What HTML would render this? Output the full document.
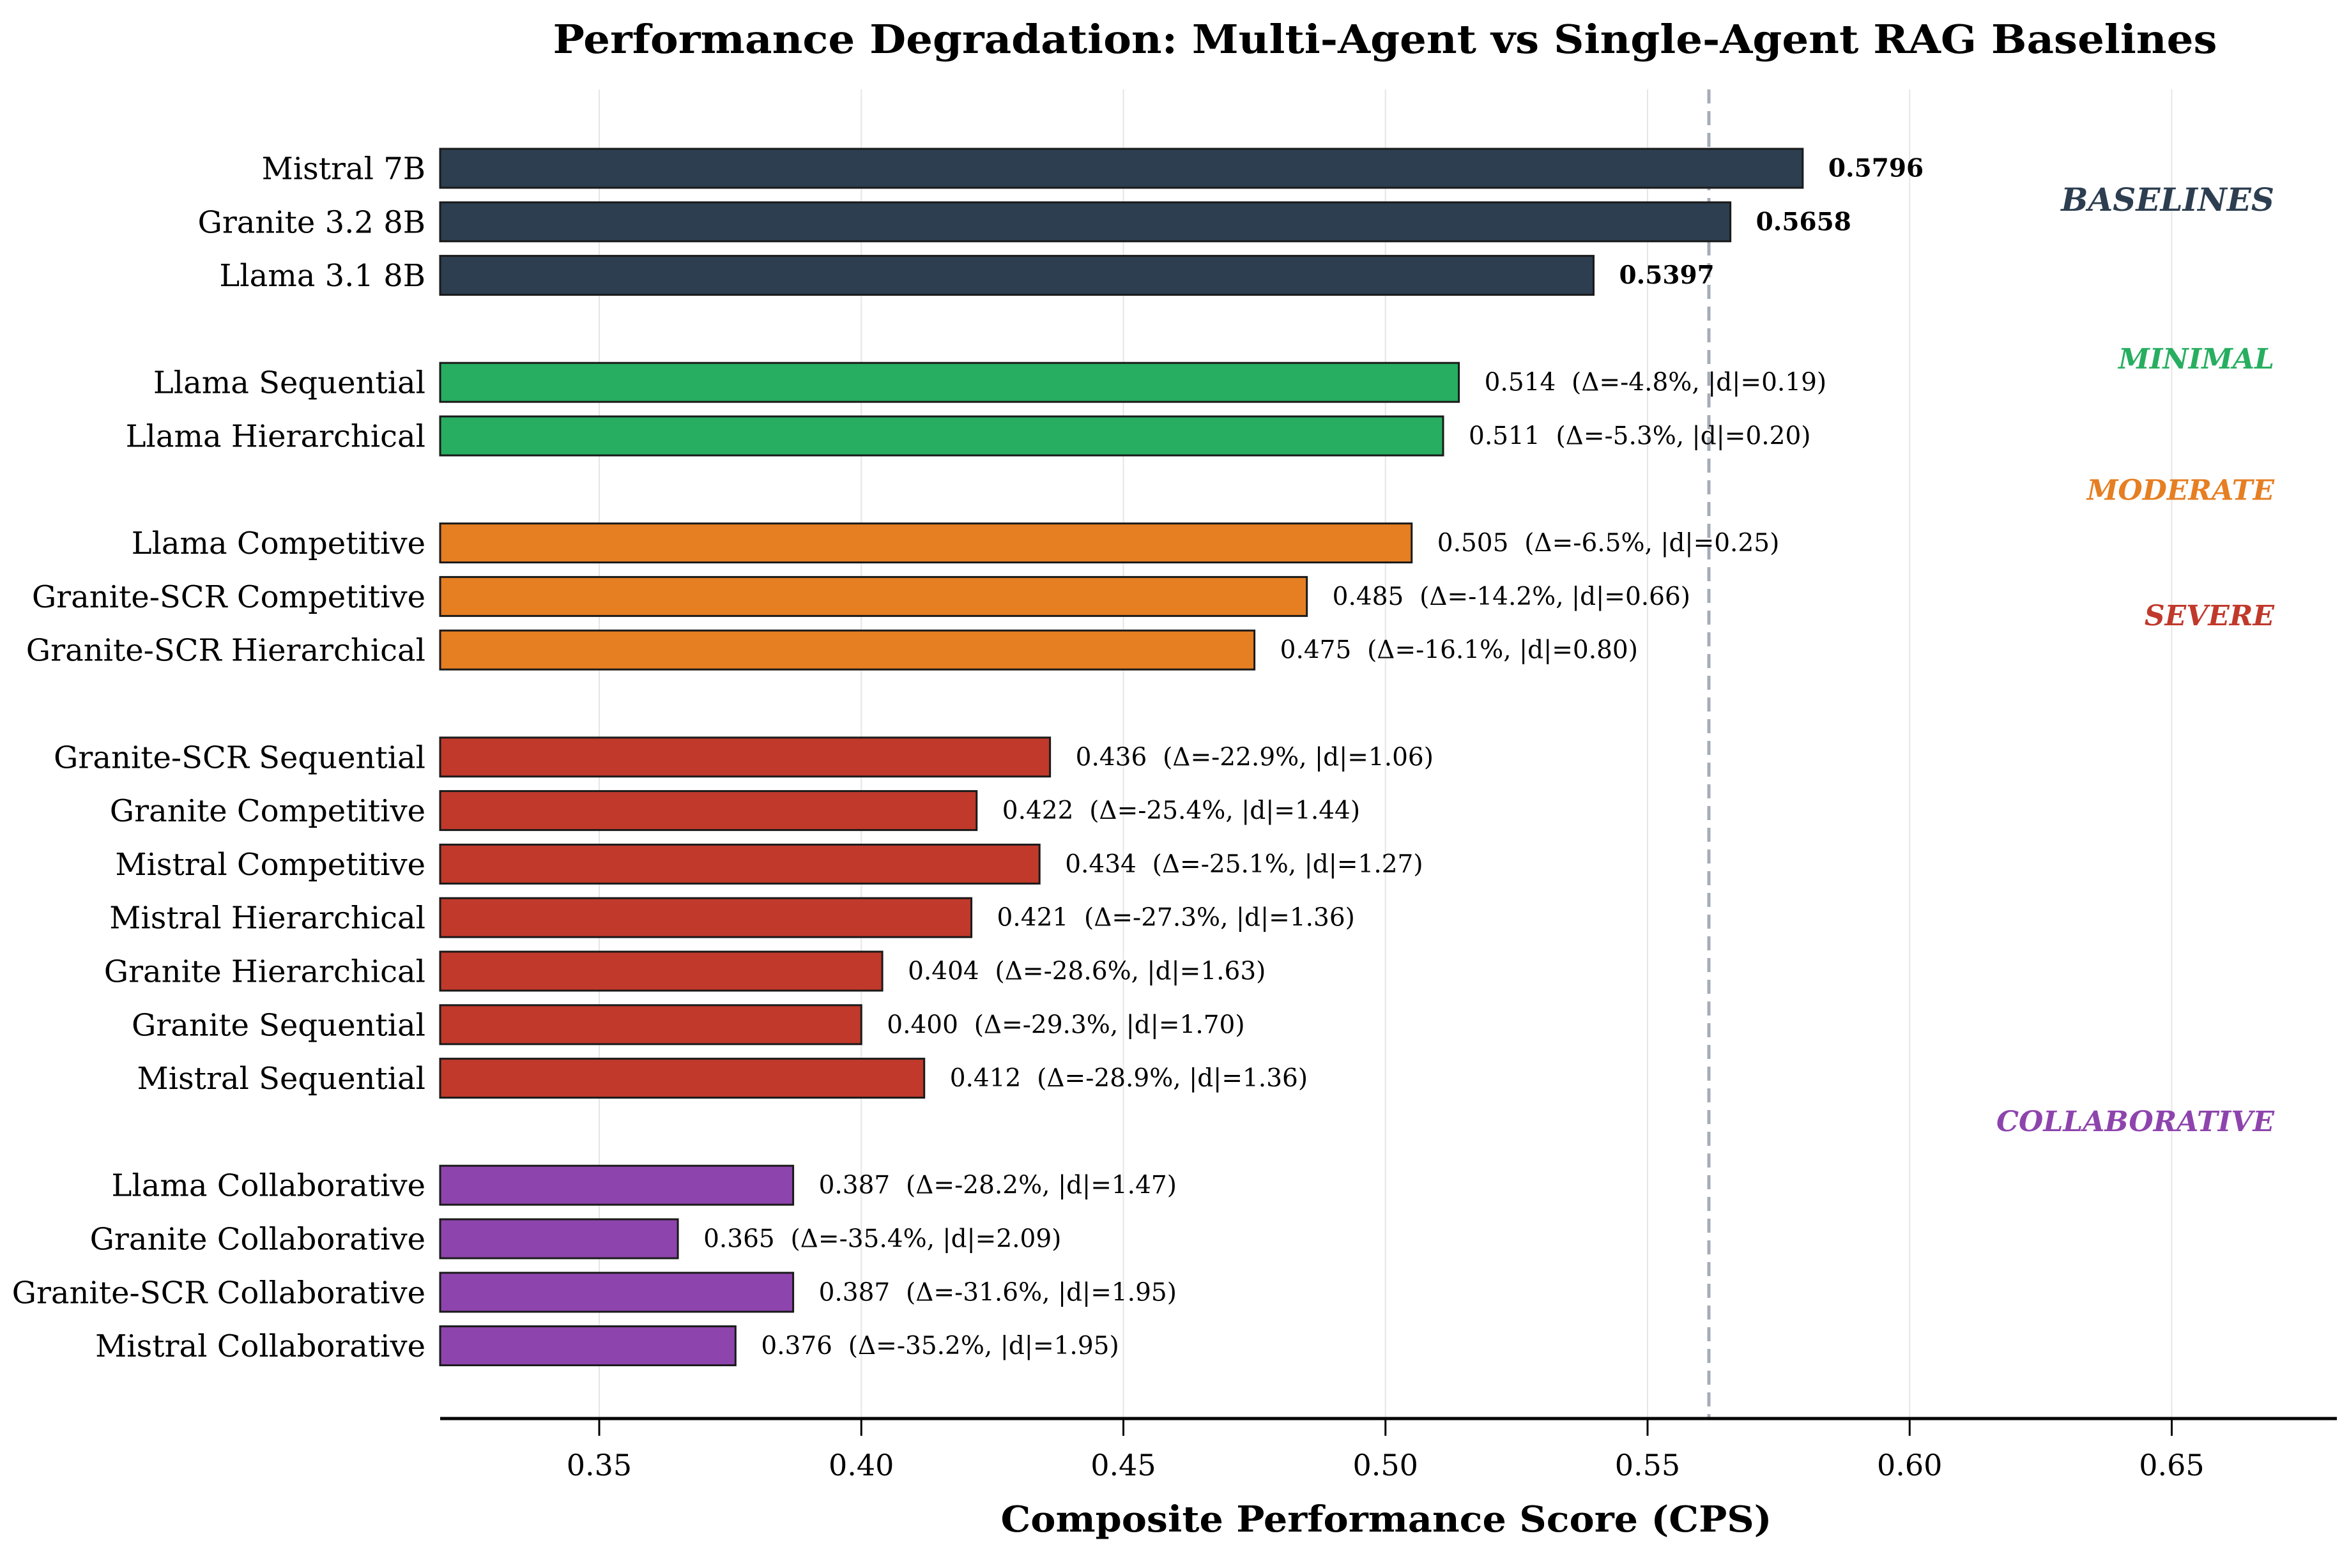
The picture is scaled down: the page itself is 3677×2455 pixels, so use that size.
<!DOCTYPE html>
<html><head><meta charset="utf-8">
<style>
html,body{margin:0;padding:0;background:#fff;}
svg{display:block;font-family:"DejaVu Serif","Liberation Serif",serif;}
.pre{white-space:pre;}
</style></head>
<body>
<svg id="chart" width="3677" height="2455" viewBox="0 0 3677 2455" xmlns="http://www.w3.org/2000/svg">
<rect x="0" y="0" width="3677" height="2455" fill="#ffffff"/>
<text x="2168" y="83" text-anchor="middle" font-size="62" font-weight="bold" textLength="2605" lengthAdjust="spacingAndGlyphs">Performance Degradation: Multi-Agent vs Single-Agent RAG Baselines</text>
<g id="grid"></g>
<g id="bars"></g>
<g id="axis"></g>
<text x="2170" y="2398" text-anchor="middle" font-size="56" font-weight="bold" textLength="1207" lengthAdjust="spacingAndGlyphs">Composite Performance Score (CPS)</text>
</svg>
<script>
const labels = ["Mistral 7B","Granite 3.2 8B","Llama 3.1 8B","Llama Sequential","Llama Hierarchical","Llama Competitive","Granite-SCR Competitive","Granite-SCR Hierarchical","Granite-SCR Sequential","Granite Competitive","Mistral Competitive","Mistral Hierarchical","Granite Hierarchical","Granite Sequential","Mistral Sequential","Llama Collaborative","Granite Collaborative","Granite-SCR Collaborative","Mistral Collaborative"];
const slots = [0,1,2,4,5,7,8,9,11,12,13,14,15,16,17,19,20,21,22];
const values = [0.5796,0.5658,0.5397,0.514,0.511,0.505,0.485,0.475,0.436,0.422,0.434,0.421,0.404,0.400,0.412,0.387,0.365,0.387,0.376];
const deltas = [null,null,null,"-4.8","-5.3","-6.5","-14.2","-16.1","-22.9","-25.4","-25.1","-27.3","-28.6","-29.3","-28.9","-28.2","-35.4","-31.6","-35.2"];
const effects = [null,null,null,"0.19","0.20","0.25","0.66","0.80","1.06","1.44","1.27","1.36","1.63","1.70","1.36","1.47","2.09","1.95","1.95"];
const groups = ["base","base","base","min","min","mod","mod","mod","sev","sev","sev","sev","sev","sev","sev","col","col","col","col"];
const ticks = [0.35,0.40,0.45,0.50,0.55,0.60,0.65];
const groupNames = ["BASELINES","MINIMAL","MODERATE","SEVERE","COLLABORATIVE"];
const groupLabelSlots = [0.6,3.55,6.0,8.35,17.8];

const colors = {base:"#2c3e50",min:"#27ae60",mod:"#e67e22",sev:"#c0392b",col:"#8e44ad"};
const groupColors = ["#2c3e50","#27ae60","#e67e22","#c0392b","#8e44ad"];
const NS="http://www.w3.org/2000/svg";
function xs(v){return 938+(v-0.35)*8205;}
function ys(s){return 263.5+s*83.8;}
function mk(tag,attrs,parent){const e=document.createElementNS(NS,tag);for(const k in attrs)e.setAttribute(k,attrs[k]);parent.appendChild(e);return e;}
const grid=document.getElementById('grid'), bars=document.getElementById('bars'), axis=document.getElementById('axis');
const TOP=140, AXY=2221, AXL=689, AXR=3658;
ticks.forEach(t=>{
  const g=mk('line',{x1:xs(t),x2:xs(t),y1:TOP,y2:AXY,stroke:"#e6e6e6","stroke-width":2},grid);
  
  
});
const mean=(values[0]+values[1]+values[2])/3;
const dl=mk('line',{x1:xs(mean),x2:xs(mean),y1:TOP,y2:AXY,stroke:"#a4acb8","stroke-width":5,"stroke-dasharray":"22,12"},grid);


const BH=61;
values.forEach((v,i)=>{
  const cy=ys(slots[i]);
  const r=mk('rect',{x:AXL,y:cy-BH/2,width:xs(v)-AXL,height:BH,fill:colors[groups[i]],stroke:"#1a1a1a","stroke-width":3},bars);
  
  
  const lt=mk('text',{x:666,y:cy+17,"text-anchor":"end","font-size":48},bars);
  lt.textContent=labels[i];
  
  
  const vt=mk('text',{x:xs(v)+40,y:cy+13,"font-size":39,"class":"pre"},bars);
  if(groups[i]==="base"){vt.setAttribute('font-weight','bold');vt.textContent=v.toFixed(4);}
  else{vt.textContent=v.toFixed(3)+"  (\u0394="+deltas[i]+"%, |d|="+effects[i]+")";}
  
  
});
groupNames.forEach((n,i)=>{
  const t=mk('text',{x:3560,y:ys(groupLabelSlots[i])+16,"text-anchor":"end","font-size":i===0?50:44,"font-weight":"bold","font-style":"italic",fill:groupColors[i]},bars);
  t.textContent=n;
  
  
});
const ax=mk('line',{x1:AXL,x2:AXR,y1:AXY,y2:AXY,stroke:"#000","stroke-width":5},axis);


ticks.forEach(t=>{
  const tk=mk('line',{x1:xs(t),x2:xs(t),y1:AXY,y2:AXY+27,stroke:"#000","stroke-width":3},axis);
  
  
  const tl=mk('text',{x:xs(t),y:2310,"text-anchor":"middle","font-size":46},axis);
  tl.textContent=t.toFixed(2);
  
  
});
</script>
</body></html>
